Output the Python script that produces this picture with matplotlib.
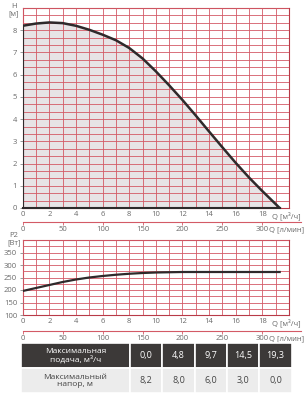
import numpy as np
import matplotlib.pyplot as plt
from matplotlib.lines import Line2D

plt.rcParams['font.family'] = ['Open Sans', 'DejaVu Sans']

# head curve H(Q)
q_h = [0, 1, 2, 3, 4, 5, 6, 7, 8, 9, 10, 11, 12, 13, 14, 15, 16, 17, 18, 19.3]
h = [8.2, 8.3, 8.35, 8.32, 8.2, 8.02, 7.8, 7.55, 7.2, 6.73, 6.15, 5.52, 4.86,
     4.16, 3.44, 2.73, 2.03, 1.37, 0.76, 0.0]

# power curve P2(Q)
q_p = [0, 1, 2, 3, 4, 5, 6, 7, 8, 9, 10, 11, 12, 14, 16, 18, 19.3]
p2 = [196, 208, 220, 232, 242, 250, 256, 261, 265, 268, 270, 271, 272, 272,
      272, 272, 272]

# table
q_tab = [0.0, 4.8, 9.7, 14.5, 19.3]
h_tab = [8.2, 8.0, 6.0, 3.0, 0.0]
row_labels = ['Максимальная\nподача, м³/ч', 'Максимальный\nнапор, м']

m3h_ticks = list(range(0, 19, 2))
lpm_ticks = [0, 50, 100, 150, 200, 250, 300]

grid_c = '#d35a66'
frame_c = '#b83a48'
txt_c = '#6a6a6a'
line_c = '#2e2a2b'
fs = 5.5

W, H = 305, 400
fig = plt.figure(figsize=(W / 100, H / 100), dpi=100)

left = 22.7 / W
width = 266.3 / W
ax1 = fig.add_axes([left, 1 - 208 / H, width, 200 / H])
ax2 = fig.add_axes([left, 1 - 315 / H, width, 75 / H])


def style(ax, yminor, sec_loc):
    ax.set_xlim(0, 20)
    ax.set_xticks(m3h_ticks)
    ax.set_xticks(np.arange(0, 21, 1), minor=True)
    ax.set_yticks(yminor, minor=True)
    ax.grid(which='both', color=grid_c, lw=0.6)
    ax.set_axisbelow(False)
    for s in ax.spines.values():
        s.set_color(frame_c)
        s.set_linewidth(0.8)
    ax.tick_params(which='minor', length=0)
    ax.tick_params(axis='x', which='major', length=0, pad=2.5,
                   labelsize=fs, labelcolor=txt_c)
    ax.tick_params(axis='y', which='major', length=2.5, width=0.6,
                   color='#888888', pad=1.5, labelsize=fs, labelcolor=txt_c)
    ax.annotate('Q [м³/ч]', xy=(18.7, 0), xycoords=('data', 'axes fraction'),
                xytext=(0, -2.5), textcoords='offset points',
                ha='left', va='top', fontsize=fs, color=txt_c,
                annotation_clip=False)

    sec = ax.secondary_xaxis(sec_loc, functions=(lambda x: x * 1000 / 60,
                                                 lambda x: x * 60 / 1000))
    sec.set_xticks(lpm_ticks)
    sec.tick_params(length=2, width=0.6, color=grid_c, pad=1,
                    labelsize=fs, labelcolor=txt_c)
    sec.spines['bottom'].set_visible(False)
    sec.spines['top'].set_visible(False)
    ax.add_line(Line2D([0, 1.045], [sec_loc, sec_loc], transform=ax.transAxes,
                       color=grid_c, lw=0.8, clip_on=False))
    ax.annotate('Q [л/мин]', xy=(18.5, sec_loc), xycoords=('data', 'axes fraction'),
                xytext=(0, -3), textcoords='offset points',
                ha='left', va='top', fontsize=fs, color=txt_c,
                annotation_clip=False)


# head chart
ax1.set_ylim(0, 9)
ax1.set_yticks(range(0, 9))
style(ax1, np.arange(0, 9.01, 1 / 3), -0.068)
ax1.fill_between(q_h, h, 0, color='#e7e4e6', lw=0, zorder=1)
ax1.plot(q_h, h, color=line_c, lw=1.8, zorder=4, solid_joinstyle='round')
ax1.plot([q_h[0], q_h[0]], [0, h[0]], color=line_c, lw=1.5, zorder=4)
ax1.plot([q_h[0], q_h[-1]], [0, 0], color=line_c, lw=1.5, zorder=4, clip_on=False)

# power chart
ax2.set_ylim(100, 400)
ax2.set_yticks(range(100, 351, 50))
style(ax2, np.arange(100, 401, 25), -0.213)
ax2.plot(q_p, p2, color=line_c, lw=1.6, zorder=4)

fig.text(14 / W, 1 - 10.5 / H, 'H\n[м]', ha='center', va='center',
         fontsize=fs, color=txt_c, linespacing=1.1)
fig.text(14 / W, 1 - 239 / H, 'P2\n[Вт]', ha='center', va='center',
         fontsize=fs, color=txt_c, linespacing=1.1)

# table
axt = fig.add_axes([20.7 / W, 1 - 393.3 / H, 271 / W, 50 / H])
axt.axis('off')
fmt = lambda v: f'{v:.1f}'.replace('.', ',')
cells = [[row_labels[0]] + [fmt(v) for v in q_tab],
         [row_labels[1]] + [fmt(v) for v in h_tab]]
colors = [['#3c3938'] * 6, ['#ececec'] * 6]
first = 0.4034
tab = axt.table(cellText=cells, cellColours=colors, cellLoc='center',
                colWidths=[first] + [(1 - first) / 5] * 5, bbox=[0, 0, 1, 1])
tab.auto_set_font_size(False)
for (r, c), cell in tab.get_celld().items():
    cell.set_edgecolor('white')
    cell.set_linewidth(1.2)
    t = cell.get_text()
    t.set_fontsize(6.5 if c > 0 else 6)
    t.set_color('white' if r == 0 else '#444444')
    t.set_linespacing(1.05)

fig.savefig('out.png', dpi=100)
